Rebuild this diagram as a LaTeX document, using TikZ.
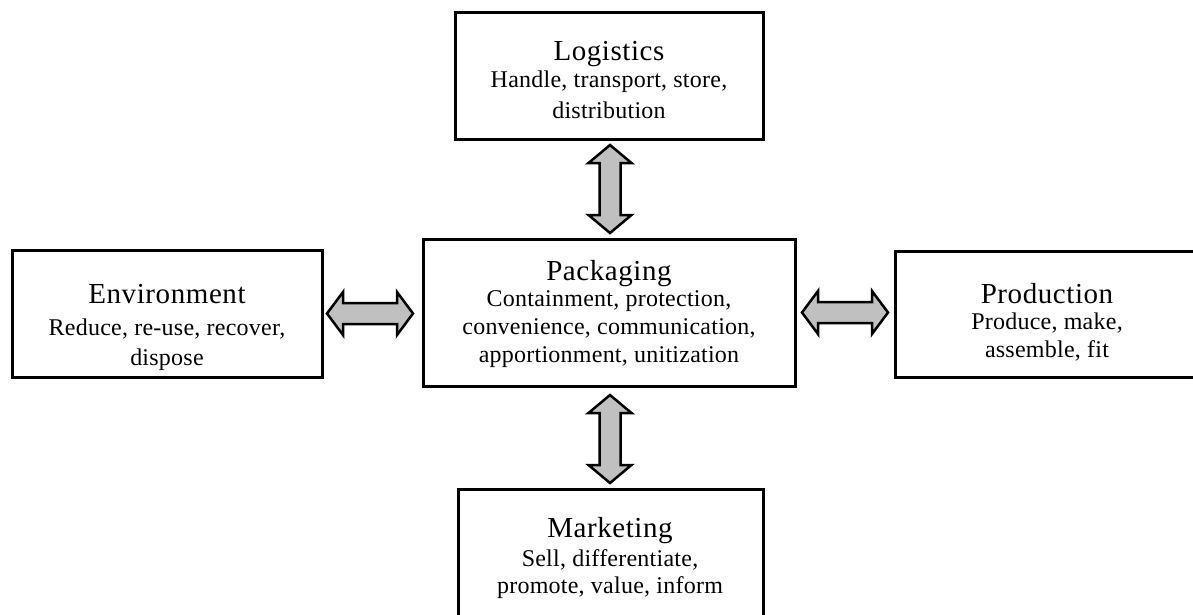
\documentclass[tikz,border=0pt]{standalone}
\usepackage{fontspec}
\setmainfont{Liberation Serif}
\usetikzlibrary{calc}
\definecolor{arrowgray}{HTML}{C0C0C0}
\tikzset{
  box/.style={draw=black, line width=3pt, rectangle, inner sep=0pt, outer sep=0pt, fill=white},
  ttl/.style={anchor=base, inner sep=0pt, font=\fontsize{29}{34}\selectfont\addfontfeature{LetterSpace=2}},
  sub/.style={anchor=base, inner sep=0pt, font=\fontsize{24}{30}\selectfont\addfontfeature{LetterSpace=1}},
  blockarrow/.style={draw=black, line width=2.5pt, fill=arrowgray, line join=miter},
}
\newcommand{\hdarrow}[2]{%
  \draw[blockarrow] let \p1=#1, \p2=#2 in
    (\x1,\y1) -- (\x1+16pt,\y1+21.5pt) -- (\x1+16pt,\y1+10.5pt) -- (\x2-16pt,\y1+10.5pt)
    -- (\x2-16pt,\y1+21.5pt) -- (\x2,\y1) -- (\x2-16pt,\y1-21.5pt) -- (\x2-16pt,\y1-10.5pt)
    -- (\x1+16pt,\y1-10.5pt) -- (\x1+16pt,\y1-21.5pt) -- cycle;}
\newcommand{\vdarrow}[2]{%
  \draw[blockarrow] let \p1=#1, \p2=#2 in
    (\x1,\y1) -- (\x1+21.5pt,\y1-18pt) -- (\x1+10.5pt,\y1-18pt) -- (\x1+10.5pt,\y2+18pt)
    -- (\x1+21.5pt,\y2+18pt) -- (\x1,\y2) -- (\x1-21.5pt,\y2+18pt) -- (\x1-10.5pt,\y2+18pt)
    -- (\x1-10.5pt,\y1-18pt) -- (\x1-21.5pt,\y1-18pt) -- cycle;}
\begin{document}
\begin{tikzpicture}[x=1pt,y=-1pt]
\useasboundingbox (0,0) rectangle (1193,614);
\clip (0,0) rectangle (1193,614);
% boxes
\node[box, minimum width=308pt, minimum height=127pt] (log) at (609,75.5) {};
\node[box, minimum width=310pt, minimum height=127pt] (env) at (167,313.5) {};
\node[box, minimum width=372pt, minimum height=147pt] (pack) at (609,312.5) {};
\node[box, minimum width=304pt, minimum height=126pt] (prod) at (1047,314) {};
\node[box, minimum width=305pt, minimum height=132pt] (mkt) at (610.5,555) {};
% texts
\node[ttl] (logT) at (609,60) {Logistics};
\node[sub] (logA) at (609,87) {Handle, transport, store,};
\node[sub] (logB) at (609,118) {distribution};
\node[ttl] (envT) at (167,303) {Environment};
\node[sub] (envA) at (167,335) {Reduce, re-use, recover,};
\node[sub] (envB) at (167,365) {dispose};
\node[ttl] (packT) at (609,280) {Packaging};
\node[sub] (packA) at (609,306) {Containment, protection,};
\node[sub] (packB) at (609,334) {convenience, communication,};
\node[sub] (packC) at (609,362) {apportionment, unitization};
\node[ttl] (prodT) at (1047,303) {Production};
\node[sub] (prodA) at (1047,329) {Produce, make,};
\node[sub] (prodB) at (1047,357) {assemble, fit};
\node[ttl] (mktT) at (610,537) {Marketing};
\node[sub] (mktA) at (610,566) {Sell, differentiate,};
\node[sub] (mktB) at (610,593) {promote, value, inform};
% arrows
\hdarrow{($(env.east)+(5,0)$)}{($(pack.west)+(-10,0)$)}
\hdarrow{($(pack.east)+(7,0)$)}{($(prod.west)+(-7,0)$)}
\vdarrow{($(log.south)+(1,6)$)}{($(pack.north)+(1,-6)$)}
\vdarrow{($(pack.south)+(1,9)$)}{($(mkt.north)+(0.5,-6)$)}
\end{tikzpicture}
\end{document}
